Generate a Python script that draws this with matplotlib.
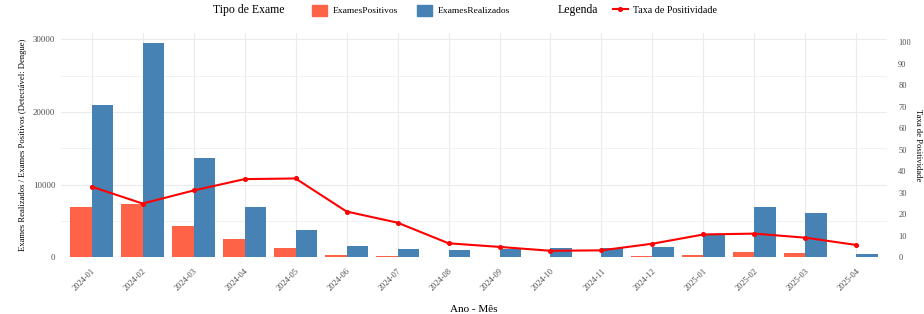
import numpy as np
import matplotlib
matplotlib.use("Agg")
import matplotlib.pyplot as plt
from matplotlib.patches import Patch
from matplotlib.lines import Line2D

# dados
meses = ['2024-01', '2024-02', '2024-03', '2024-04', '2024-05', '2024-06',
         '2024-07', '2024-08', '2024-09', '2024-10', '2024-11', '2024-12',
         '2025-01', '2025-02', '2025-03', '2025-04']
exames_positivos = [6910, 7370, 4240, 2440, 1290, 330, 185, 59,
                    54, 36, 38, 86, 330, 745, 550, 25]
exames_realizados = [20960, 29480, 13680, 6910, 3690, 1480, 1150, 920,
                     1150, 1240, 1240, 1380, 3090, 6910, 6080, 450]
taxa_positividade = [32.8, 24.9, 31.0, 36.3, 36.6, 21.2, 16.0, 6.4,
                     4.7, 2.9, 3.1, 6.2, 10.5, 10.9, 9.0, 5.6]

cor_pos = '#FF6347'
cor_real = '#4682B4'
cor_linha = '#FF0000'
cinza_txt = '#4D4D4D'
grade = '#EBEBEB'

plt.rcParams['font.family'] = ['Liberation Serif', 'DejaVu Serif']

fig = plt.figure(figsize=(9.24, 3.14), dpi=100)
ax = fig.add_axes([0.066, 0.1815, 0.894, 0.7135])

x = np.arange(len(meses))
w = 0.42
ax.bar(x - w / 2, exames_positivos, width=w, color=cor_pos, zorder=2)
ax.bar(x + w / 2, exames_realizados, width=w, color=cor_real, zorder=2)

ax.set_xlim(-0.6, len(meses) - 0.4)
ax.set_ylim(0, 30900)
ax.set_yticks([0, 10000, 20000, 30000])
ax.set_yticks([5000, 15000, 25000], minor=True)
ax.set_xticks(x)
ax.set_xticklabels(meses, rotation=45, ha='right', rotation_mode='anchor')
ax.tick_params(axis='both', which='both', length=0, labelsize=6.3,
               labelcolor=cinza_txt, pad=4)
ax.tick_params(axis='x', labelsize=6, pad=7)
ax.grid(True, which='major', color=grade, lw=0.8, zorder=0)
ax.grid(True, which='minor', axis='y', color=grade, lw=0.5, zorder=0)
for s in ax.spines.values():
    s.set_visible(False)

ax.set_xlabel('Ano - Mês', fontsize=8, labelpad=9)
ax.set_ylabel('Exames Realizados / Exames Positivos (Detectável: Dengue)',
              fontsize=6.2, labelpad=4)

ax2 = ax.twinx()
ax2.plot(x, taxa_positividade, color=cor_linha, lw=1.5, marker='o',
         markersize=2.6, zorder=3)
ax2.set_ylim(0, 104.4)
ax2.set_yticks(np.arange(0, 101, 10))
ax2.tick_params(axis='y', length=0, labelsize=6, labelcolor=cinza_txt, pad=8)
for s in ax2.spines.values():
    s.set_visible(False)
ax2.set_ylabel('Taxa de Positividade', fontsize=6.2, rotation=270,
               labelpad=8)

# legendas no topo
fig.text(0.231, 0.967, 'Tipo de Exame', fontsize=8.5, va='center', ha='left')
leg1 = fig.legend(handles=[Patch(color=cor_pos), Patch(color=cor_real)],
                  labels=['ExamesPositivos', 'ExamesRealizados'],
                  loc='center left', bbox_to_anchor=(0.333, 0.967), ncol=2,
                  frameon=False, fontsize=6.8, handlelength=1.5,
                  handleheight=1.5, columnspacing=2.1, handletextpad=0.6,
                  borderpad=0)
fig.text(0.603, 0.967, 'Legenda', fontsize=8.5, va='center', ha='left')
leg2 = fig.legend(handles=[Line2D([], [], color=cor_linha, lw=1.5, marker='o',
                                  markersize=2.6)],
                  labels=['Taxa de Positividade'], loc='center left',
                  bbox_to_anchor=(0.658, 0.967), frameon=False, fontsize=7.2,
                  handlelength=1.5, handletextpad=0.5, borderpad=0)

fig.savefig('out.png', dpi=100)
